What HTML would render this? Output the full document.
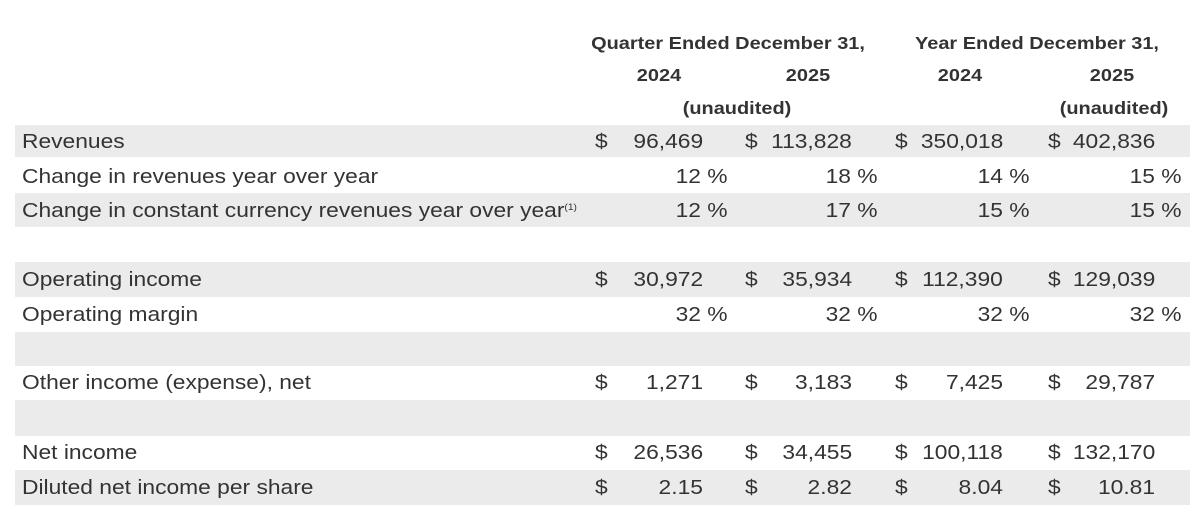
<!DOCTYPE html>
<html><head><meta charset="utf-8"><style>
body{margin:0;width:1190px;height:520px;background:#fff;position:relative;overflow:hidden;font-family:"Liberation Sans",Arial,sans-serif;color:#333;}
.band{position:absolute;left:15px;width:1175px;background:#ebebeb;}
.t{position:absolute;font-size:20px;line-height:20px;white-space:nowrap;transform:scaleX(1.14);transform-origin:left center;}
.h{position:absolute;font-size:17.5px;font-weight:bold;line-height:20px;white-space:nowrap;transform:translateX(-50%) scaleX(1.14);}
.r{position:absolute;font-size:20px;line-height:20px;white-space:nowrap;text-align:right;transform:scaleX(1.14);transform-origin:right center;}
sup{font-size:9px;line-height:0;vertical-align:7px;}
</style></head><body>
<div class="band" style="top:125px;height:32px"></div>
<div class="band" style="top:193px;height:34px"></div>
<div class="band" style="top:262px;height:35px"></div>
<div class="band" style="top:332px;height:34px"></div>
<div class="band" style="top:400px;height:36px"></div>
<div class="band" style="top:470px;height:35px"></div>

<div class="h" style="left:728px;top:33px">Quarter Ended December 31,</div>
<div class="h" style="left:1037px;top:33px">Year Ended December 31,</div>
<div class="h" style="left:659px;top:65px">2024</div>
<div class="h" style="left:808px;top:65px">2025</div>
<div class="h" style="left:960px;top:65px">2024</div>
<div class="h" style="left:1112px;top:65px">2025</div>
<div class="h" style="left:737px;top:98px">(unaudited)</div>
<div class="h" style="left:1114px;top:98px">(unaudited)</div>

<div class="t" style="left:22px;top:132px">Revenues</div>
<div class="t" style="left:22px;top:167px">Change in revenues year over year</div>
<div class="t" style="left:22px;top:201px">Change in constant currency revenues year over year<sup>(1)</sup></div>
<div class="t" style="left:22px;top:270px">Operating income</div>
<div class="t" style="left:22px;top:305px">Operating margin</div>
<div class="t" style="left:22px;top:373px">Other income (expense), net</div>
<div class="t" style="left:22px;top:443px">Net income</div>
<div class="t" style="left:22px;top:478px">Diluted net income per share</div>

<div id="rows"></div>
<script>
var cols=[[595,703],[745,852],[895,1003],[1048,1155]];
var pc=[728,878,1030,1182];
var d=[
[132,['96,469','113,828','350,018','402,836']],
[270,['30,972','35,934','112,390','129,039']],
[373,['1,271','3,183','7,425','29,787']],
[443,['26,536','34,455','100,118','132,170']],
[478,['2.15','2.82','8.04','10.81']]];
var p=[[167,['12 %','18 %','14 %','15 %']],[201,['12 %','17 %','15 %','15 %']],[305,['32 %','32 %','32 %','32 %']]];
var h='';
d.forEach(function(r){for(var i=0;i<4;i++){h+='<div class="t" style="left:'+cols[i][0]+'px;top:'+r[0]+'px">$</div>';h+='<div class="r" style="right:'+(1190-cols[i][1])+'px;top:'+r[0]+'px">'+r[1][i]+'</div>';}});
p.forEach(function(r){for(var i=0;i<4;i++){h+='<div class="r" style="right:'+(1190-pc[i])+'px;top:'+r[0]+'px">'+r[1][i]+'</div>';}});
document.getElementById('rows').innerHTML=h;
</script>
</body></html>
